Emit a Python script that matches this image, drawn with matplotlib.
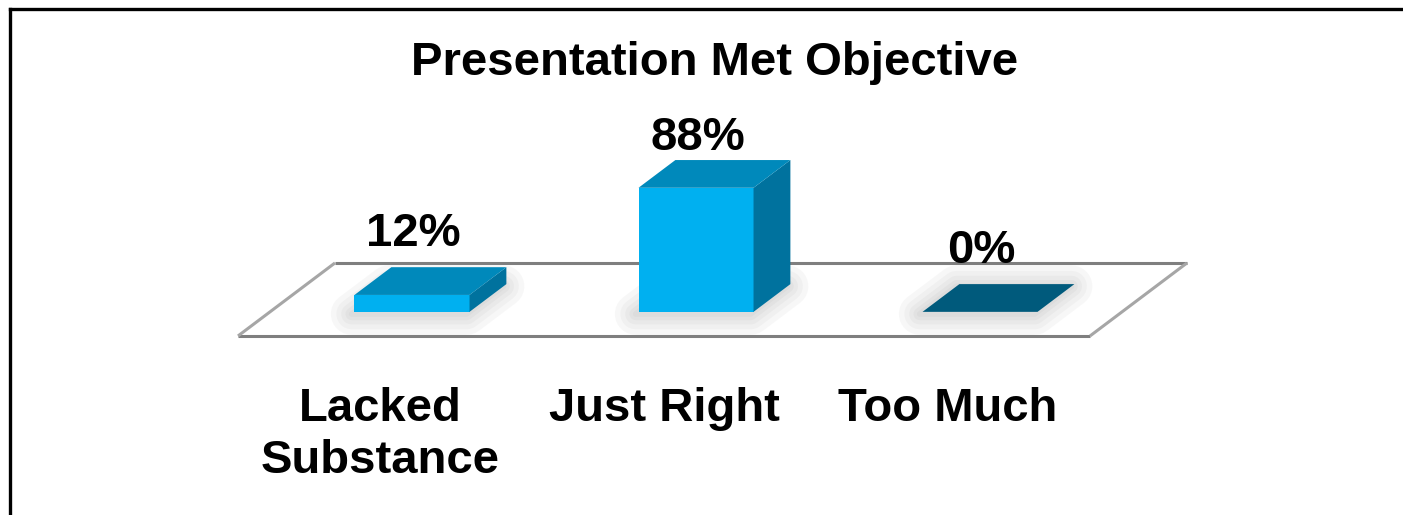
import matplotlib
matplotlib.use("Agg")
import matplotlib.pyplot as plt
from matplotlib.patches import Polygon
from matplotlib.lines import Line2D

plt.rcParams['font.family'] = ['Liberation Sans', 'DejaVu Sans']

title = "Presentation Met Objective"
categories = ["Lacked\nSubstance", "Just Right", "Too Much"]
values = [12, 88, 0]
value_labels = ["12%", "88%", "0%"]

# colours of the three visible faces of a bar
front_color = "#00b0f0"
top_color = "#0089bb"
side_color = "#00729e"
empty_color = "#005a7c"

# fake 3D: depth z in 0..1 moves a point right by DX (category units) and up by DY (percent units)
DX = 0.3415
DY = 51.8
bar_half = 0.2025
z_front, z_back = 0.33, 0.71


def proj(x, z, h):
    return (x + z * DX, h + z * DY)


fig = plt.figure(figsize=(14.03, 5.15), dpi=100)
ax = fig.add_axes([0, 0, 1, 1])
ax.set_xlim(-1.338, 3.602)
ax.set_ylim(-127.0, 238.3)
ax.axis("off")

# floor
n = len(categories)
floor = [proj(-0.5, 0, 0), proj(n - 0.5, 0, 0), proj(n - 0.5, 1, 0), proj(-0.5, 1, 0)]
ax.add_patch(Polygon(floor, closed=True, facecolor="white", edgecolor="none", zorder=1))
for a, b, col in [(0, 1, "#7f7f7f"), (3, 2, "#7f7f7f"), (0, 3, "#a6a6a6"), (1, 2, "#a6a6a6")]:
    ax.plot([floor[a][0], floor[b][0]], [floor[a][1], floor[b][1]], color=col, lw=2.2,
            solid_capstyle="butt", zorder=2)

for i, v in enumerate(values):
    x0, x1 = i - bar_half, i + bar_half
    footprint = [proj(x0, z_front, 0), proj(x1, z_front, 0), proj(x1, z_back, 0), proj(x0, z_back, 0)]

    # soft shadow under the bar, nudged a little towards the front
    shadow = [(px - 0.01, py - 1.5) for px, py in footprint]
    for lw in [30, 22, 15, 9, 4]:
        ax.add_patch(Polygon(shadow, closed=True, facecolor="none", edgecolor="#6e6e6e",
                             lw=lw, alpha=0.05, joinstyle="round", zorder=3))

    front = [proj(x0, z_front, 0), proj(x1, z_front, 0), proj(x1, z_front, v), proj(x0, z_front, v)]
    side = [proj(x1, z_front, 0), proj(x1, z_back, 0), proj(x1, z_back, v), proj(x1, z_front, v)]
    top = [proj(x0, z_front, v), proj(x1, z_front, v), proj(x1, z_back, v), proj(x0, z_back, v)]
    ax.add_patch(Polygon(front, closed=True, facecolor=front_color, edgecolor="none", zorder=4))
    ax.add_patch(Polygon(side, closed=True, facecolor=side_color, edgecolor="none", zorder=4))
    ax.add_patch(Polygon(top, closed=True, facecolor=top_color if v > 0 else empty_color,
                         edgecolor="none", zorder=4))

    # value label above the bar, kept under the title
    lx, _ = proj(i, z_front, v)
    ly = min(v + z_back * DY + 14.9, 132)
    ax.text(lx + 0.005, ly, value_labels[i], ha="center", va="baseline",
            fontsize=34, fontweight="bold", zorder=6)

    ax.text(i, -36, categories[i], ha="center", va="top", fontsize=34,
            fontweight="bold", linespacing=1.25, zorder=6)

fig.text(0.509, 1 - 75 / 515, title, ha="center", va="baseline", fontsize=34, fontweight="bold")

# frame along the top and left edges
fig.add_artist(Line2D([10 / 1403, 10 / 1403], [0, 1 - 9 / 515], color="black", lw=2.4))
fig.add_artist(Line2D([10 / 1403, 1], [1 - 9 / 515, 1 - 9 / 515], color="black", lw=2.4))

fig.savefig("out.png", dpi=100)
